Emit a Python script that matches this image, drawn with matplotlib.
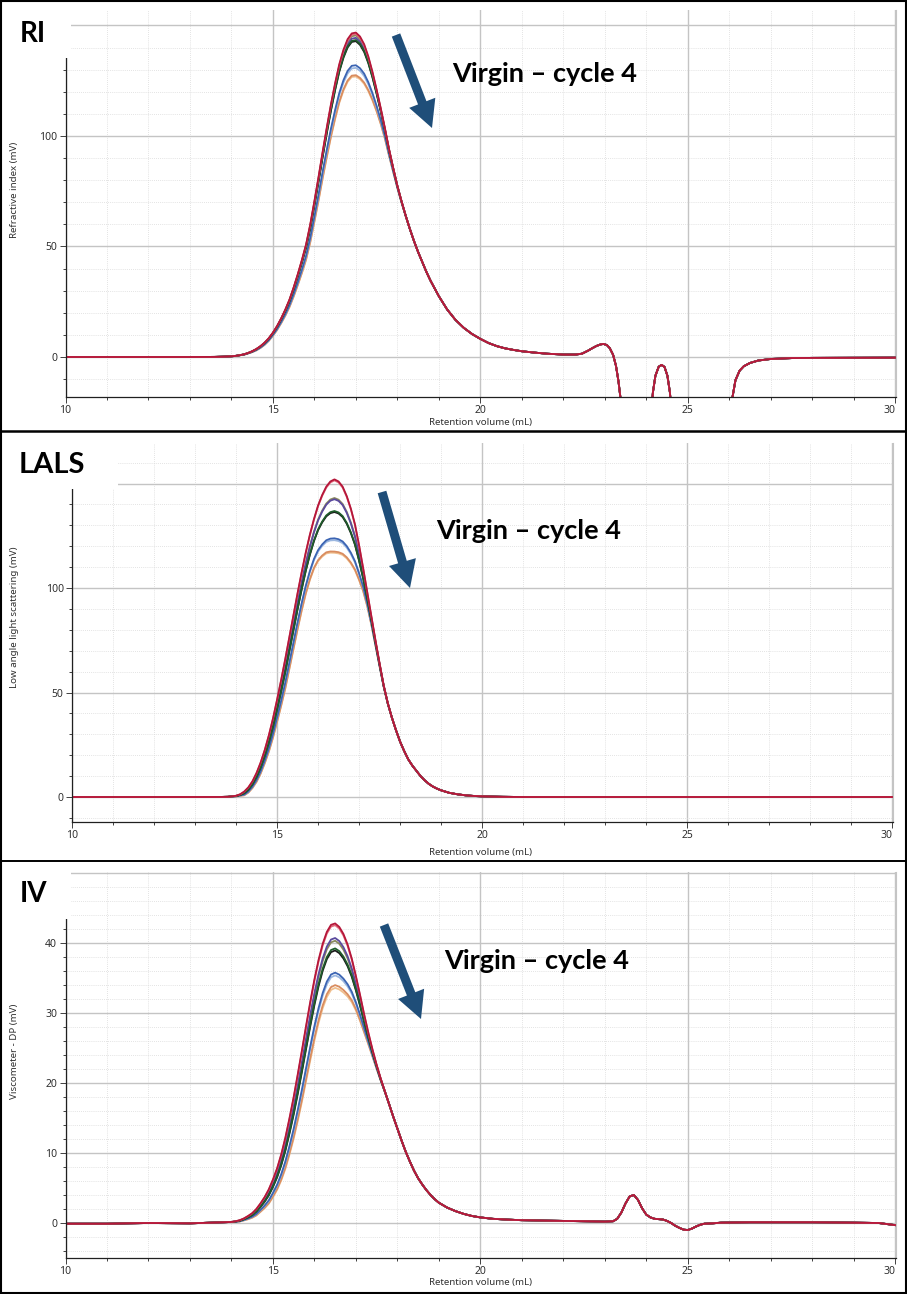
import numpy as np
import matplotlib
matplotlib.use('Agg')
import matplotlib.pyplot as plt
from matplotlib.patches import FancyArrow, Rectangle
from matplotlib.ticker import MultipleLocator

plt.rcParams['font.family'] = ['Noto Sans', 'DejaVu Sans']

W, H = 907, 1294

# traces, same order in every panel (last one drawn on top)
colors = ['#f0c08f', '#d98c5f', '#9bb7e0', '#3b64b3', '#8a8a5c',
          '#5b4a9e', '#1a1a1a', '#1e5b2a', '#e26a7c', '#b5173a']

# sampled peak region, 14.0 ... 19.0 mL
peak_x = np.round(np.arange(14.0, 19.05, 0.1), 1)

# ---- RI (mV)
ri_left_x = [10.0, 12.0, 13.0, 13.6, 13.8]
ri_left_y = [0.0, 0.0, 0.0, 0.05, 0.15]
ri_top = [0.3, 0.5, 0.8, 1.2, 1.8, 2.6, 3.6, 4.9, 6.5, 8.5,
          11.0, 14.0, 17.5, 21.5, 26.0, 31.5, 37.5, 44.0, 51.0, 60.0,
          70.5, 81.5, 93.0, 104.0, 114.5, 124.0, 132.5, 139.0, 143.8, 146.4,
          146.8, 145.0, 141.5, 136.0, 129.0, 121.0, 112.5, 103.5, 94.0, 85.5,
          77.5, 70.5, 64.0, 58.0, 52.5, 47.5, 43.0, 38.5, 34.5, 31.0,
          27.5]
# how much of each trace's peak deficit applies at each volume
ri_w = [0, 0, 0, 0.01, 0.01, 0.02, 0.03, 0.04, 0.05, 0.06,
        0.07, 0.09, 0.11, 0.14, 0.17, 0.21, 0.25, 0.30, 0.35, 0.41,
        0.47, 0.54, 0.61, 0.68, 0.75, 0.82, 0.88, 0.93, 0.97, 0.99,
        1.0, 0.97, 0.9, 0.79, 0.65, 0.5, 0.36, 0.24, 0.15, 0.09,
        0.05, 0.03, 0.01, 0, 0, 0, 0, 0, 0, 0,
        0]
ri_tail_x = [19.2, 19.4, 19.6, 19.8, 20.0, 20.2, 20.4, 20.6, 20.8, 21.0,
             21.3, 21.6, 22.0, 22.3, 22.45, 22.6, 22.7, 22.8, 22.9, 22.97,
             23.05, 23.12, 23.2, 23.27, 23.33, 23.4, 23.5, 24.0, 24.1, 24.16,
             24.22, 24.3, 24.37, 24.44, 24.51, 24.57, 24.63, 24.7, 25.95, 26.03,
             26.08, 26.15, 26.25, 26.35, 26.5, 26.7, 27.0, 27.5, 28.0, 30.0]
ri_tail_y = [21.5, 16.8, 13.2, 10.4, 8.2, 6.3, 4.9, 3.9, 3.2, 2.6,
             2.0, 1.5, 1.1, 1.1, 1.5, 2.9, 4.0, 5.0, 5.7, 5.9,
             5.4, 4.0, 1.0, -4.0, -11.0, -22.0, -45.0, -45.0, -30.0, -16.0,
             -8.5, -4.4, -3.6, -4.5, -8.5, -16.0, -30.0, -45.0, -45.0, -28.0,
             -18.0, -10.5, -6.2, -4.2, -2.7, -1.6, -0.9, -0.5, -0.4, -0.3]
ri_drop = [19.9, 19.3, 16.0, 14.8, 1.3, 2.4, 3.9, 3.4, 0.6, 0.0]

# ---- LALS (mV)
lals_left_x = [10.0, 12.0, 13.0, 13.6, 13.8, 13.9]
lals_left_y = [0.0, 0.0, 0.0, 0.02, 0.1, 0.3]
lals_top = [0.6, 1.3, 2.6, 4.6, 7.5, 11.5, 16.5, 22.5, 29.5, 37.5,
            46.5, 56.0, 66.0, 76.5, 87.0, 97.5, 107.5, 117.0, 125.5, 133.0,
            139.5, 144.5, 148.5, 151.0, 152.0, 151.0, 148.5, 144.0, 138.0, 130.5,
            120.5, 109.5, 98.0, 86.5, 75.0, 64.0, 53.5, 45.0, 38.0, 32.0,
            26.5, 22.0, 18.0, 15.0, 12.5, 10.0, 8.0, 6.3, 5.0, 4.0,
            3.2]
lals_w = [0.01, 0.02, 0.05, 0.07, 0.09, 0.12, 0.15, 0.18, 0.22, 0.26,
          0.30, 0.35, 0.40, 0.43, 0.46, 0.49, 0.52, 0.56, 0.61, 0.67,
          0.75, 0.83, 0.90, 0.96, 0.99, 0.97, 0.92, 0.84, 0.74, 0.62,
          0.47, 0.31, 0.19, 0.115, 0.07, 0.04, 0.02, 0.01, 0, 0,
          0, 0, 0, 0, 0, 0, 0, 0, 0, 0,
          0]
lals_tail_x = [19.2, 19.4, 19.6, 19.8, 20.0, 20.5, 21.0, 30.0]
lals_tail_y = [2.0, 1.3, 0.8, 0.5, 0.3, 0.1, 0.0, 0.0]
lals_drop = [35.5, 34.9, 29.4, 28.5, 9.0, 9.6, 15.8, 15.3, 0.5, 0.0]

# ---- IV (mV)
iv_left_x = [10.0, 11.0, 12.0, 13.0, 13.5, 13.8]
iv_left_y = [-0.1, -0.1, 0.0, -0.05, 0.05, 0.1]
iv_top = [0.15, 0.25, 0.4, 0.65, 1.0, 1.4, 2.0, 2.8, 3.7, 4.8,
          6.2, 7.8, 9.8, 12.2, 15.0, 18.0, 21.3, 24.7, 28.2, 31.6,
          34.8, 37.6, 39.9, 41.6, 42.6, 42.8, 42.3, 41.3, 39.8, 37.8,
          35.3, 32.6, 29.8, 27.2, 24.8, 22.6, 20.6, 18.8, 17.0, 15.2,
          13.5, 11.8, 10.2, 8.8, 7.5, 6.4, 5.5, 4.7, 4.0, 3.4,
          2.9]
iv_w = [0, 0.01, 0.02, 0.03, 0.05, 0.07, 0.1, 0.13, 0.17, 0.22,
        0.27, 0.33, 0.4, 0.48, 0.56, 0.64, 0.72, 0.79, 0.85, 0.9,
        0.94, 0.97, 0.99, 1.0, 1.0, 0.99, 0.96, 0.9, 0.8, 0.67,
        0.53, 0.4, 0.28, 0.18, 0.11, 0.06, 0.03, 0.01, 0, 0,
        0, 0, 0, 0, 0, 0, 0, 0, 0, 0,
        0]
iv_tail_x = [19.2, 19.4, 19.6, 19.8, 20.0, 20.3, 20.6, 21.0, 22.0, 23.0,
             23.2, 23.3, 23.4, 23.5, 23.6, 23.7, 23.8, 23.9, 24.0, 24.1,
             24.2, 24.3, 24.4, 24.5, 24.6, 24.7, 24.8, 24.9, 25.0, 25.1,
             25.2, 25.3, 25.4, 25.6, 25.8, 26.5, 28.0, 29.0, 29.6, 30.0]
iv_tail_y = [2.2, 1.7, 1.3, 1.0, 0.8, 0.6, 0.5, 0.4, 0.3, 0.2,
             0.25, 0.6, 1.5, 2.8, 3.8, 4.0, 3.3, 2.1, 1.2, 0.8,
             0.6, 0.55, 0.5, 0.3, 0.0, -0.4, -0.7, -0.95, -1.0, -0.8,
             -0.5, -0.25, -0.1, -0.05, 0.05, 0.1, 0.1, 0.05, 0.0, -0.3]
iv_drop = [9.3, 8.9, 7.5, 7.1, 2.5, 2.1, 3.9, 3.6, 0.25, 0.0]

fig = plt.figure(figsize=(W / 100, H / 100), dpi=100)
fig.patch.set_facecolor('white')


def panel(box, ylim, yticks, ymin, ylabel, ylab_y, xlab_y,
          left_x, left_y, top, w, tail_x, tail_y, drops):
    l, t, r, b = box
    ax = fig.add_axes([l / W, 1 - b / H, (r - l) / W, (b - t) / H])
    x = np.concatenate([left_x, peak_x, tail_x])
    for c, d in zip(colors, drops):
        y = np.concatenate([left_y, np.array(top) - d * np.array(w), tail_y])
        ax.plot(x, y, color=c, lw=1.3, solid_joinstyle='round')
    ax.set_xlim(10, 30.02)
    ax.set_ylim(*ylim)
    ax.xaxis.set_minor_locator(MultipleLocator(1))
    ax.yaxis.set_minor_locator(MultipleLocator(ymin))
    # the top gridline has no label: it sits behind the panel title box
    ax.set_yticks(yticks)
    ax.set_yticklabels([str(v) for v in yticks[:-1]] + [''])
    ax.set_axisbelow(True)
    ax.grid(which='major', color='#c4c4c4', lw=1.0)
    ax.grid(which='minor', color='#dadada', lw=0.6, ls=(0, (1, 1.5)))
    ax.tick_params(which='both', direction='out', color='#404040',
                   labelsize=7.5, labelcolor='#303030', width=0.7)
    ax.tick_params(which='major', length=4, pad=2)
    ax.tick_params(which='minor', length=2.5)
    ax.spines['top'].set_visible(False)
    ax.spines['right'].set_color('#c4c4c4')
    for s in ('left', 'bottom'):
        ax.spines[s].set_color('#202020')
        ax.spines[s].set_linewidth(0.9)
    ax.set_xticks([10, 15, 20, 25, 30])
    ax.set_xticklabels(['10', '15', '20', '25', '30'])
    ax.get_xticklabels()[-1].set_ha('right')
    fig.text(15 / W, 1 - ylab_y / H, ylabel, rotation=90, ha='center',
             va='center', fontsize=7, color='#303030')
    fig.text(480 / W, 1 - xlab_y / H, 'Retention volume (mL)', ha='center',
             va='center', fontsize=7, color='#303030')
    return ax


panel((65.5, 10, 896, 397), (-18.1, 157.0), [0, 50, 100, 150], 10,
      'Refractive index (mV)', 190, 423,
      ri_left_x, ri_left_y, ri_top, ri_w, ri_tail_x, ri_tail_y, ri_drop)
panel((72, 443, 893, 822), (-11.96, 169.4), [0, 50, 100, 150], 10,
      'Low angle light scattering (mV)', 617, 853,
      lals_left_x, lals_left_y, lals_top, lals_w, lals_tail_x, lals_tail_y,
      lals_drop)
panel((65.5, 872, 896, 1258), (-5.0, 50.15), [0, 10, 20, 30, 40, 50], 2,
      'Viscometer - DP (mV)', 1051, 1283,
      iv_left_x, iv_left_y, iv_top, iv_w, iv_tail_x, iv_tail_y, iv_drop)

# overlay in pixel coordinates: label boxes, titles, arrows, frames
ov = fig.add_axes([0, 0, 1, 1], zorder=10)
ov.set_xlim(0, W)
ov.set_ylim(H, 0)
ov.axis('off')
ov.patch.set_alpha(0)

for (x0, y0, x1, y1) in [(2, 2, 71, 58), (2, 433, 118, 489), (2, 862, 71, 919)]:
    ov.add_patch(Rectangle((x0, y0), x1 - x0, y1 - y0, color='white', lw=0))

big = dict(fontsize=20, fontweight='bold', family=['Lato', 'DejaVu Sans'],
           color='black', va='baseline', ha='left')
ov.text(20, 42, 'RI', **big)
ov.text(19, 473, 'LALS', **dict(big, fontsize=21))
ov.text(20, 902, 'IV', **big)

note = dict(big, fontsize=19.5)
ov.text(452, 82, 'Virgin \u2013 cycle 4', **note)
ov.text(436, 539, 'Virgin \u2013 cycle 4', **note)
ov.text(444, 969, 'Virgin \u2013 cycle 4', **note)

for (x0, y0, x1, y1) in [(396, 35, 432, 128), (382, 492, 410, 588), (384, 925, 421, 1019)]:
    ov.add_patch(FancyArrow(x0, y0, x1 - x0, y1 - y0, width=9, head_width=28,
                            head_length=27, length_includes_head=True,
                            color='#1f4e79', lw=0))

ov.plot([0, W], [431, 431], color='black', lw=1.8, solid_capstyle='butt')
ov.plot([0, W], [860.5, 860.5], color='black', lw=1.4, solid_capstyle='butt')
ov.add_patch(Rectangle((0.75, 0.75), W - 1.5, H - 1.5, fill=False,
                       edgecolor='black', lw=1.5))

fig.savefig('out.png', dpi=100)
